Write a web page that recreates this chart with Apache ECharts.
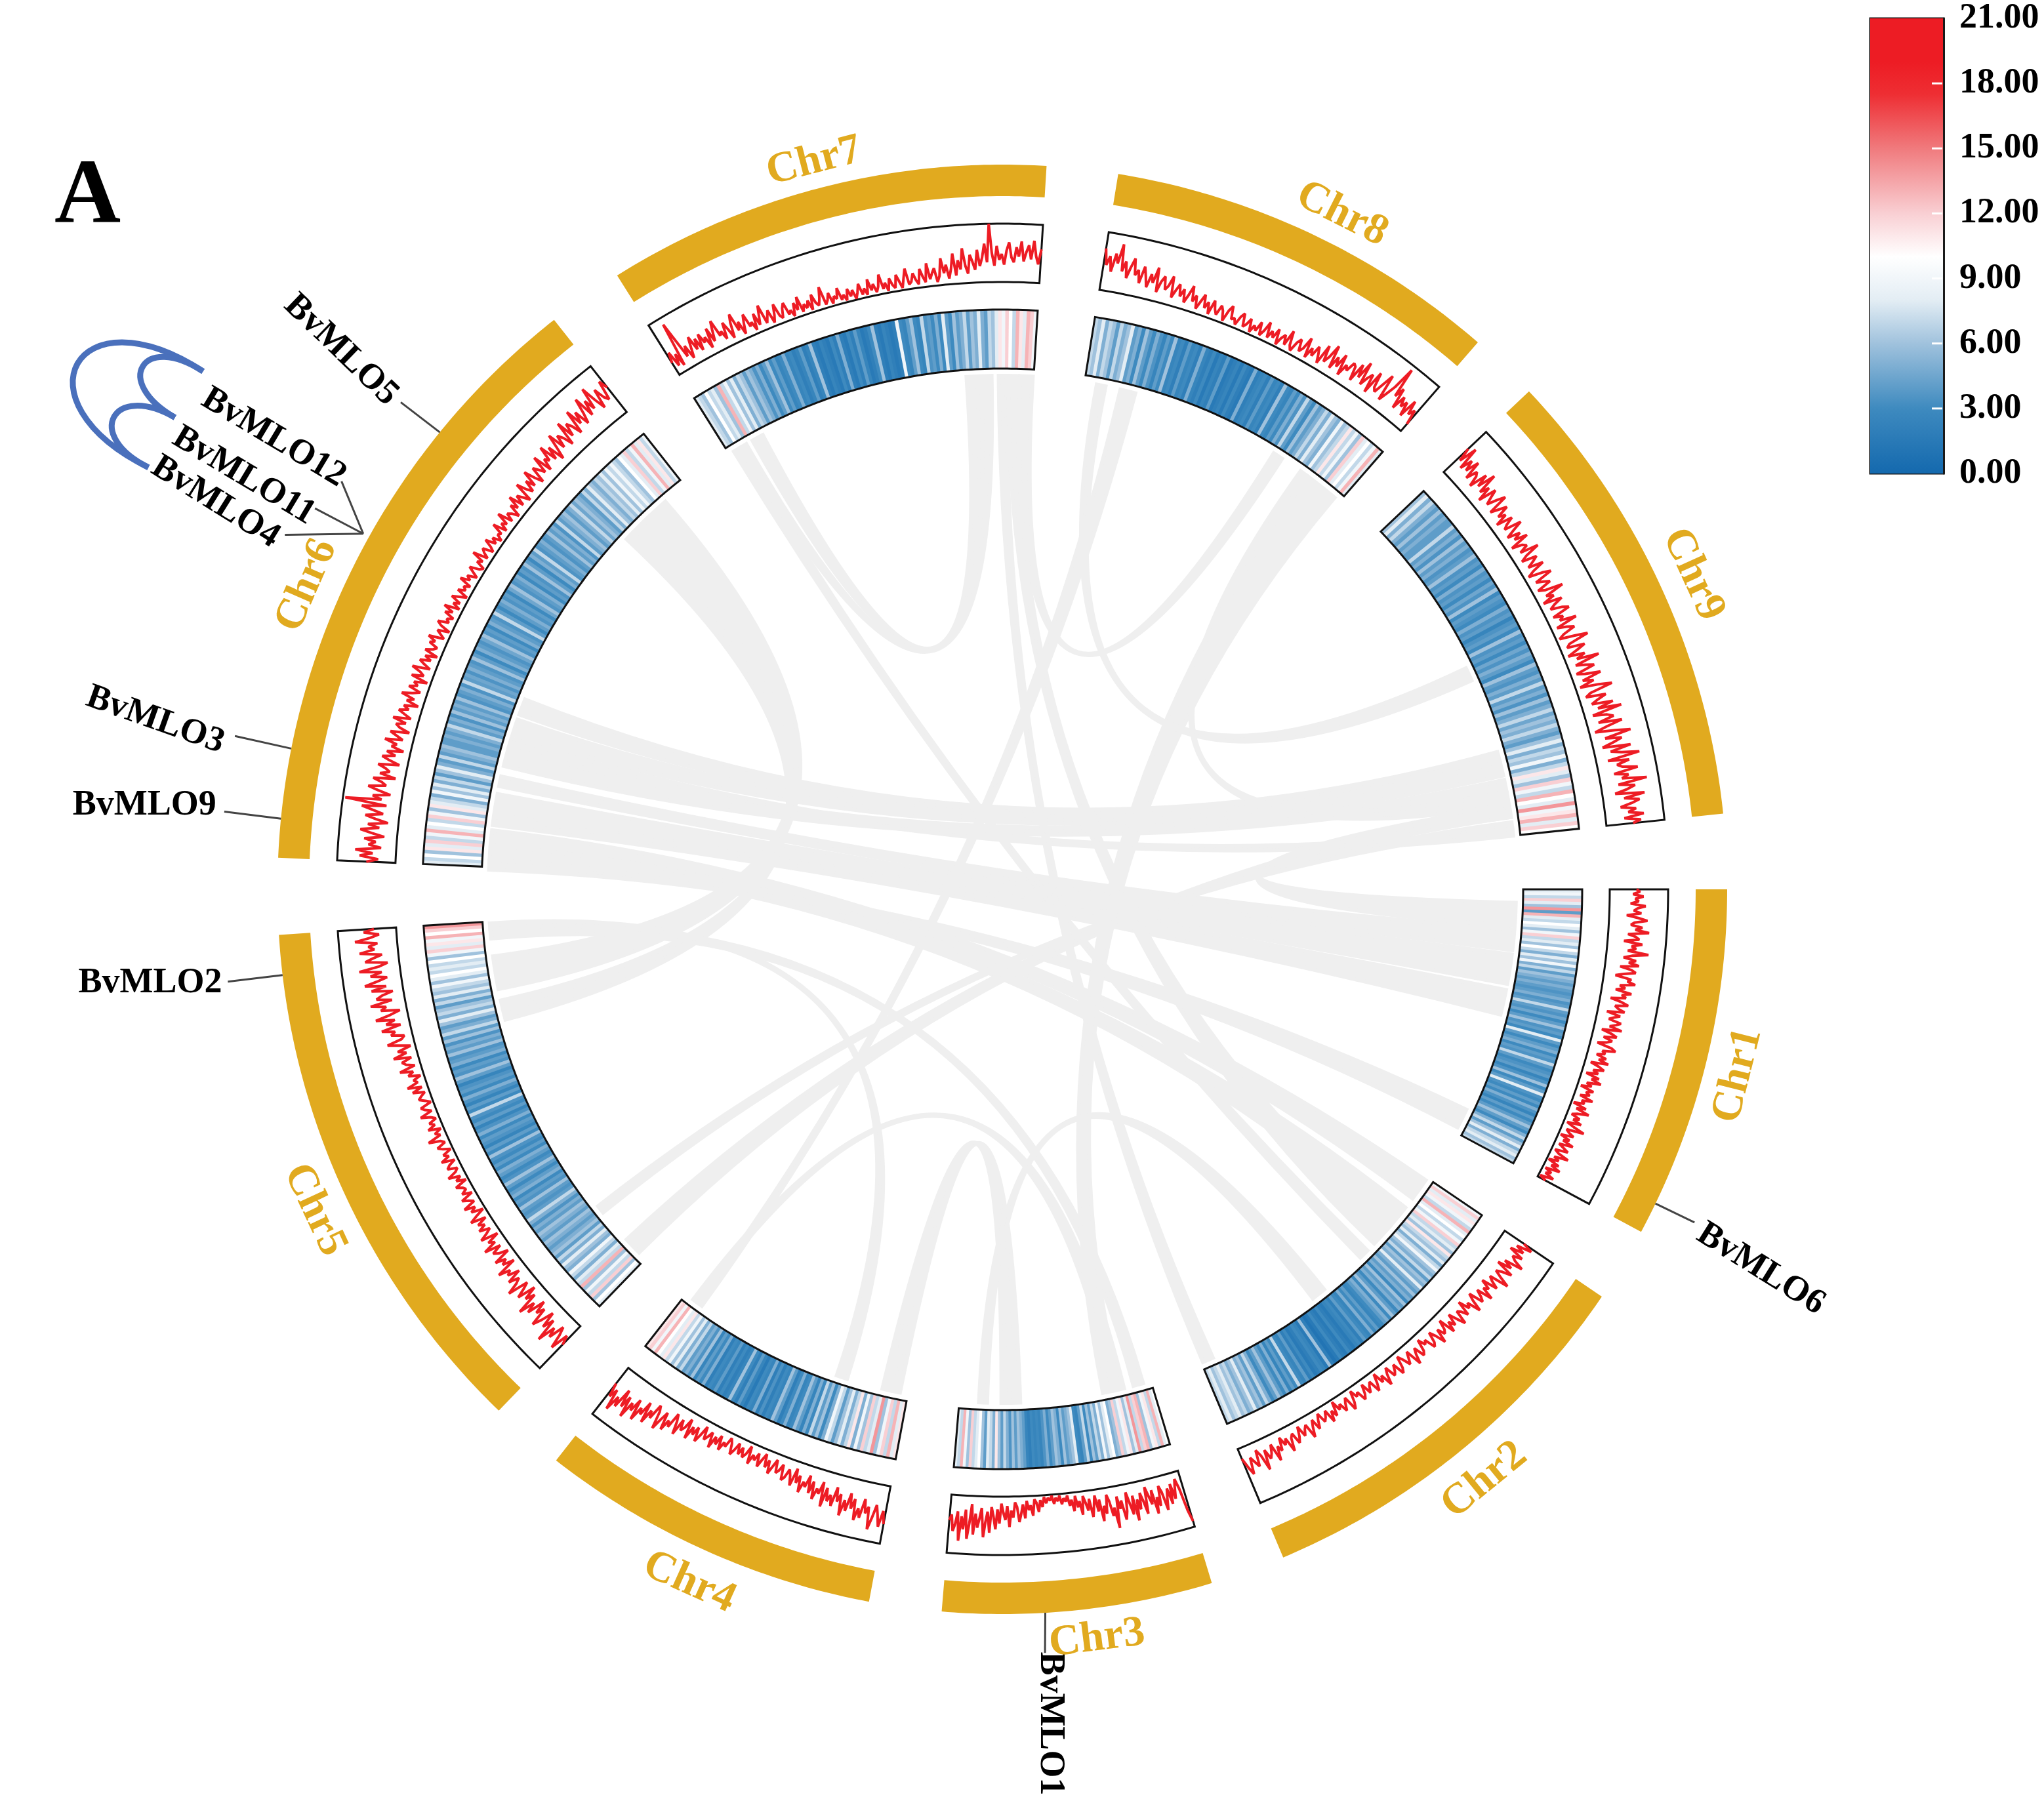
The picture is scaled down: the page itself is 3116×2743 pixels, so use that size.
<!DOCTYPE html>
<html><head><meta charset="utf-8">
<style>html,body{margin:0;padding:0;background:#fff}#c{width:3116px;height:2743px}</style>
<script src="https://cdn.jsdelivr.net/npm/echarts@6/dist/echarts.min.js"></script>
</head><body><div id="c"></div>
<script>
// ---------- categories ----------
const chromosomes = ['Chr1','Chr2','Chr3','Chr4','Chr5','Chr6','Chr7','Chr8','Chr9'];
const sectorStart = [0,34.2,73.2,100.6,134,182.5,237.9,279.2,316.6];
const sectorEnd   = [28.2,67.2,94.8,128,176.4,231.8,273.5,311,354];
const chrLabelAngle = [14.2,50.8,82.8,114.3,155,203.6,255.5,296.7,335.5];
const chrLabelRadius = [1157,1163,1152,1160,1157,1157,1146,1152,1157];
const colorTicks = [0,3,6,9,12,15,18,21];

// ---------- line track (share of the track height, inner edge = 0) ----------
const line1=[46,52,40,58,44,50,36,62,48,42,55,30,50,66,44,38,58,46,70,34,48,54,28,60,42,50,36,72,44,30,52,40,58,26,46,54,34,20,48,42,56,30,40,24,52,36,44,18,38,50,28,34,46,16,40,30,22,44,36,26,48,14,32,42,20,36,28,12,38,46,24,30,16,34,22,40,10,26,36,18,28,8,32,20,38,14,24,6,30,18,26,10,34,16,22,4,28,12,36,18,8,24,14,30,6,20,40,10,16,26,4,22,12,32,8,18,28,6,14,34,10,20,3,24,12,30,5,18,9,26,3,15];
const line2=[40,58,32,48,25,52,36,44,62,30,46,22,54,38,28,42,60,26,34,48,20,38,30,52,24,36,44,18,30,50,26,34,14,40,28,22,46,32,16,36,24,42,12,28,34,20,44,26,14,32,38,18,24,10,30,36,16,26,42,12,22,32,18,8,28,36,14,24,30,10,20,38,16,26,6,22,34,12,18,28,8,24,32,14,20,6,26,36,10,18,30,14,22,4,28,16,34,10,20,26,8,18,32,12,24,40,14,20,30,10,26,36,16,22,44,18,28,12,34,24,48,16,30,38,20,54,26,14,42,32,22,50,36,18];
const line3=[90,70,30,12,26,45,18,52,24,40,60,28,16,50,34,62,20,44,28,12,58,36,20,48,30,66,22,54,34,14,46,60,26,40,18,72,36,50,24,12,44,30,56,18,38,10,28,46,14,34,20,8,40,16,26,6,32,12,22,4,14,8,18,3,12,6,16,2,10,5,14,3,20,8,28,12,6,34,16,24,8,38,14,30,44,18,10,36,24,52,16,40,28,12,46,22,56,34,18,62,26,44,70,20,38,54,30,66,14,48,74,24,58,36,78,28,50,62,34,44];
const line4=[66,44,72,52,36,60,80,42,54,30,64,48,70,34,52,26,58,40,68,32,46,22,56,38,50,28,62,20,42,34,54,24,46,16,38,30,50,22,36,12,44,28,18,34,40,14,26,32,10,24,38,16,30,8,20,34,12,26,18,36,6,22,30,14,28,10,24,34,16,8,26,20,36,12,30,18,40,14,24,32,10,28,42,18,34,22,46,12,30,38,20,50,28,16,44,34,54,24,40,60,30,20,48,36,62,26,52,42,68,32,56,44,74,38,60,30,66,50,78,42,58,34];
const line5=[44,28,60,36,22,50,34,66,26,46,18,40,56,24,38,16,48,30,58,20,36,12,44,28,16,52,32,22,40,14,34,26,46,10,30,20,38,8,24,32,14,42,18,28,6,36,22,12,30,16,26,8,34,20,4,24,14,32,10,18,28,6,22,12,16,26,4,20,10,30,14,8,24,18,6,28,12,20,4,16,24,8,14,34,10,18,5,26,12,20,6,14,30,8,18,24,4,12,22,16,8,28,10,34,14,20,6,26,16,38,10,24,30,12,42,18,32,8,26,46,20,14,36,28,50,16,40,24,56,30,12,44,34,60,22,48,38,18,54,28,64,42,24,52,32,70,36,20,58,44,28,66,40,50,34,72,46,30,56,38];
const line6=[50,30,62,40,70,26,48,36,56,22,44,64,32,52,18,40,58,28,46,66,24,96,34,50,20,42,60,30,38,54,16,44,28,36,50,14,32,46,24,40,12,34,26,48,18,30,42,10,28,36,20,44,14,26,38,22,32,8,30,18,42,24,12,34,20,28,6,36,16,24,40,10,22,32,14,26,6,30,18,12,28,20,34,8,16,24,4,22,30,12,18,8,26,14,32,6,20,10,28,16,4,24,12,18,8,30,14,22,6,16,26,10,4,20,12,34,8,18,24,6,14,28,10,20,5,16,12,32,8,22,14,36,10,24,18,6,28,16,38,12,30,20,8,42,24,14,34,18,46,26,12,40,30,20,50,16,36,28,54,22,44,14,34,58,26,48,38,20,62,30,52,42,24,66,36,56,28,46,72,34,60,40,78,50,30,64,44,36,70,54];
const line7=[24,42,14,34,10,88,52,20,38,12,30,48,22,40,16,44,26,34,12,46,20,38,54,24,30,14,42,28,10,36,50,18,32,8,26,40,16,22,6,34,12,28,44,10,20,30,6,18,36,14,8,24,32,10,16,4,26,12,34,6,18,10,22,4,30,14,8,20,38,6,12,24,4,16,10,28,6,14,3,22,8,18,2,12,26,6,16,4,30,10,20,5,14,34,8,18,3,24,12,6,28,16,4,20,36,8,12,26,14,6,32,18,8,40,12,22,30,6,16,46,20,34,10,26,52,14,40,24,60,30,16,48,36,22,56,28,42,66,34,100,50,28,62,38,48,30,54,68,42,34,60,44,70,36,52,64,40,72,46,32,58];
const line8=[72,44,60,34,66,50,84,38,56,28,48,64,36,46,24,54,38,20,44,30,58,16,36,46,24,32,50,14,28,40,20,34,12,26,44,18,30,8,22,36,14,26,6,32,18,10,28,20,4,24,34,12,16,6,22,30,8,14,26,4,18,10,28,6,16,34,8,22,12,30,4,18,26,10,38,14,6,24,32,12,20,42,8,28,16,36,24,10,46,18,30,54,14,38,22,48,12,34,26,44,40,16,50,28,60,20,36,46,14,56,30,24,44,64,18,34,52,92,40,58,22,48,32,44,20,54,30,42,16];
const line9=[58,34,66,26,48,30,54,22,42,36,18,50,28,60,24,40,14,46,32,20,38,52,16,30,44,22,34,12,40,26,18,48,30,14,36,22,44,10,28,34,18,50,24,12,38,28,16,42,20,8,32,46,14,26,36,10,22,52,18,30,8,40,24,14,34,44,12,28,20,48,10,26,38,16,6,32,54,18,12,42,26,8,36,20,58,14,30,44,10,24,50,16,34,8,40,62,22,12,46,30,18,54,26,66,14,38,48,20,60,32,10,44,70,24,52,36,16,64,28,46,76,20,56,34,42,68,26,50,38,80,30,58,44,22,72,36,62,48,28,54,40,66,32,60,46];

// ---------- heatmap track ----------
const heat1=[8,9,7,12,8,6,14,4,13,8,7,10,8,6,9,12,7,8,6,10,7,5,8,6,9,5,7,4,6,5,4,5,4,3.5,4,5,3.5,4,7,4,3.5,4.5,3,4,6,3.5,4,3,8,4,3,4,5,3,4,3.5,7,4,3,3.5,4,2.5,3.5,6,3,4,8,3.5,3,4,3,5,3.5,2.5,4,3,4,6,4,3,5,7,4,6,8,5,7,8,6,7];
const heat2=[9,12,8,11,9,7,13,8,10,7,9,12,7,8,6,11,7,6,8,5,7,9,6,5,7,4,6,5,8,5,4,6,4,5,3,6,4,5,3,4,6,3,5,4,3,2.5,4,3,5,2.5,3,4,2,3,2.5,1.5,2,3,1.5,2,3,1.5,1,2,6,1.5,2.5,3,2,1.5,3,2,4,2.5,3,7,3,4,2.5,5,3,4,6,4,3,5,7,4,6,5,8,6,5,7,6,8,7,6,8,7];
const heat3=[10,8,13,7,11,9,6,13,12,7,14,8,6,11,9,7,12,6,5,10,8,6,9,5,7,4,6,3,7,4,2.5,3,8,6,5,4,6,3,5,6,4,3,5,3.5,2.5,3,2.5,3,2,2.5,4,5,6,4,6,3.5,5,7,4,6,11,5,7,8,4,6,10,8,7,12,6,9,13,7,8];
const heat4=[11,8,13,7,12,9,6,14,8,7,12,6,9,5,11,7,5,8,6,4,7,9,5,3,6,4,7,3,5,2.5,4,6,3,2.5,5,3,2,4,6,2.5,3,2,3.5,2,5,2.5,3,1.5,2.5,4,2,3,6,2.5,2,3,2,4,2.5,3,2,5,3,4,2.5,6,3.5,5,4,7,5,8,6,9,7,11,8,10,13,9,12,11];
const heat5=[8,10,6,12,7,9,6,13,7,8,5,7,9,5,6,8,5,7,4,6,5,4,5,6,4,5,6,4,5,3.5,5,7,4,3.5,4,6,3.5,4,3,5,4,3,4,6,3.5,3,4,5,3,4,3,3.5,6,3,4,2.5,3.5,4,3,5,3.5,2.5,4,3,3.5,7,3,4,2.5,3.5,5,3,4,3.5,2.5,4,6,3.5,4,3,5,4,3.5,6,4,5,3.5,6,4,7,5,4,6,8,5,7,6,4,7,5,8,6,7,9,6,8,10,7,8,7,10,6,9,12,8,11,9,13,10,12,14];
const heat6=[8,7,10,6,11,8,12,7,9,13,8,10,7,12,9,6,11,8,7,5,9,6,8,5,7,4,6,8,5,4,7,4,5,6,4,4,5,4,5,7,4,5,3.5,6,4,5,4,6,3.5,4,5,3.5,7,4,4.5,3.5,5,4,3.5,6,4,3,5,4,3.5,4.5,6,3.5,4,3,5,4,3.5,7,4,3,4,5,3.5,4,3,4.5,6,3.5,4,5,3,4,3.5,6,4,3,5,4,7,3.5,4,5,3.5,4,6,4,5,3.5,7,4,5,6,4,5,7,4.5,6,5,4,7,5,8,6,5,7,6,8,6,9,7,9,7,6,10,8,12,7,9,13,8,11,7,9];
const heat7=[8,7,6,10,7,8,6,13,7,9,6,8,5,7,6,4,6,5,3.5,5,3,4,6,3,4,2.5,3,5,2.5,3,2,2.5,4,2,2.5,6,2,1.5,2.5,2,1.5,3,2,5,2,1.5,3,2,4,2.5,1.5,2,3,6,2,1.5,2.5,2,1.5,2,9,3,2.5,4,6,3,2.5,7,3.5,4,3,5,3,8,4,3,6,4,5,7,4,6,5,8,5,4,7,6,8,11,9,12,10,7,13,11,8,13,12,9];
const heat8=[7,6,8,5,7,6,4,7,5,6,8,4,5,3,6,4,3,5,3.5,2.5,4,3,6,2.5,3,2,4,2.5,3,2,5,2.5,2,3,1.5,2.5,2,4,1.5,2,2.5,1.5,3,2,1.5,5,2,2.5,3,2,4,2.5,3,2,6,3,2.5,4,3,5,3.5,7,4,3,6,4,5,7,5,8,6,5,9,6,7,11,7,9,6,12,8,10,7,9,13,8];
const heat9=[6,8,5,7,5,4,6,4,5,4,4,7,4,5,3.5,6,4,5,3.5,4,6,3.5,4,3,5,3.5,4,3,4.5,3.5,6,3,4,3.5,3,5,3.5,4,2.5,3.5,4,3,6,3.5,4,3,4.5,3.5,5,4,3,6,4,3.5,5,4,7,4,5,3.5,6,4,5,7,4.5,6,5,7,5,4,6,8,5,7,6,9,5,7,11,8,6,12,9,7,13,10,8,14,9,11,13,8,12,10];

// ---------- links: [from start, from end, to start, to end] in degrees round the circle ----------
const links=[
 [199.9,201.7,344.5,345.5],[197.5,199.3,345.6,347.2],[193.9,196,347.7,349],[196,197.1,353.2,354],
 [191.6,192.7,4.5,6.8],[188.4,190.7,7.3,10.6],[187.2,188.1,11.3,14.1],[182.2,183.2,25.4,27.6],
 [184.9,186.6,34.5,37],[183.3,184.9,38.3,40.8],
 [350.6,351.9,1.5,4.1],
 [141,141.9,352.5,353.2],[135,137,350.8,351.9],
 [168.8,172.5,225.5,229],[166.7,167.5,224.2,225.2],[165.3,166.4,223,224],
 [107.6,108.8,175.6,176.2],[74.1,75.2,174.5,175.6],
 [88,89,101.5,102.4],[89.2,90.1,102.6,103.5],
 [51.2,52.8,91.7,92.6],
 [238.5,239.3,44.7,45.8],[240.9,242.2,266,267.2],[239.3,240.1,267.6,268.8],
 [65.8,67,269.6,270.5],[41,43.6,270.7,271.8],[272,273.4,301.9,303],
 [76.8,78.7,306.5,310.3],[305.5,306.5,349.2,350.5],[280.6,281.6,334.5,336],
 [125.8,126.4,283.3,285],[76.3,77.6,126.4,127]
];

// ---------- genes ----------
const geneNames=['BvMLO5','BvMLO12','BvMLO11','BvMLO4','BvMLO3','BvMLO9','BvMLO2','BvMLO1','BvMLO6'];
const geneAngle=[219.1,209.1,209.1,209.1,191.2,185.6,173.2,86.6,25.7];
const geneTipAngle=[219,211.7,209,206.3,191.3,185.7,173.2,86.8,25.7];
const geneTipRadius=[1180,1184,1198,1220,1193,1192,1189,1166,1171];
const labelAngle=[219.2,211.8,208.6,206.2,191.3,185.6,173.7,86.7,26.6];
const labelRadius=[1301,1307,1317,1337,1317,1314,1307,1274,1293];
const labelTilt=[44,31,31,32,19.5,0,0,90,32];
// tandem gene pairs: from angle, to angle, bulge radius
const bluePairs=[[212.95,206.3,1682],[212.95,209.7,1562],[209.7,206.3,1562]];

// ---------- colour scale ----------
const scaleValues=[0,3,6,8,10,12,15,17.5,19,21];
const scaleColors=['#1469ae','#3e8abf','#a0c2dd','#e3edf4','#ffffff','#f9cfd3','#f07a7d','#ee2e33','#ed1c24','#ed1c24'];

// ---------- layout ----------
const lineTracks=[line1,line2,line3,line4,line5,line6,line7,line8,line9];
const heatTracks=[heat1,heat2,heat3,heat4,heat5,heat6,heat7,heat8,heat9];
const R={ring:[1057,1105],line:[926,1015],heat:[794,884],link:783,gene:1105,blue:1452};
const GOLD='#e1aa1f', SERIF='"Liberation Serif","Times New Roman",serif';

function heatColor(v){
  for(let i=1;i<scaleValues.length;i++){
    if(v<=scaleValues[i]){
      const t=(v-scaleValues[i-1])/(scaleValues[i]-scaleValues[i-1]);
      return echarts.color.lerp(t,[scaleColors[i-1],scaleColors[i]]);
    }
  }
  return scaleColors[scaleColors.length-1];
}
function arc(api,r,a0,a1){
  const n=Math.max(1,Math.ceil(Math.abs(a1-a0)/0.5)),pts=[];
  for(let i=0;i<=n;i++){const c=api.coord([r,a0+(a1-a0)*i/n]);pts.push([c[0],c[1]]);}
  return pts;
}
function band(api,r0,r1,a0,a1){return arc(api,r0,a0,a1).concat(arc(api,r1,a1,a0));}

const heatRows=[];
heatTracks.forEach((t,c)=>t.forEach((v,i)=>heatRows.push([c,i,v])));
const chrRows=chromosomes.map((_,i)=>[i]);
const geneRows=geneNames.map((_,i)=>[i]);
const frameRows=[];
chromosomes.forEach((_,i)=>{frameRows.push([i,0]);frameRows.push([i,1]);});

const lineSeries=lineTracks.map((vals,c)=>({
  type:'line',coordinateSystem:'polar',showSymbol:false,symbol:'none',silent:true,z:4,animation:false,clip:false,
  lineStyle:{color:'#ed1c24',width:4,join:'bevel'},
  data:vals.map((v,i)=>[
    R.line[0]+v/100*(R.line[1]-R.line[0]),
    sectorStart[c]+(sectorEnd[c]-sectorStart[c])*i/(vals.length-1)
  ])
}));

function custom(data,z,renderItem){
  return {type:'custom',coordinateSystem:'polar',data,z,silent:true,animation:false,renderItem};
}

const option={
  animation:false,backgroundColor:'#fff',
  title:{text:'A',left:78,top:228,textStyle:{fontFamily:SERIF,fontWeight:'bold',fontSize:140,color:'#000'}},
  polar:{center:[1528,1356],radius:1800},
  angleAxis:{type:'value',min:0,max:360,startAngle:0,clockwise:true,show:false},
  radiusAxis:{type:'value',min:0,max:1800,show:false},
  grid:{left:2851,top:28,width:112,height:694,show:true,borderColor:'#1a1a1a',borderWidth:3,containLabel:false},
  xAxis:{type:'category',data:['colour'],show:false},
  yAxis:{type:'value',position:'right',min:0,max:21,interval:3,z:10,splitLine:{show:false},
    axisLine:{show:true,lineStyle:{color:'#1a1a1a',width:3}},
    axisTick:{show:false},
    axisLabel:{show:true,margin:24,align:'left',fontFamily:SERIF,fontWeight:'bold',fontSize:54,color:'#000',
      formatter:v=>colorTicks.includes(v)?v.toFixed(2):''}},
  series:[
    // colour bar
    {type:'bar',xAxisIndex:0,yAxisIndex:0,data:[21],barWidth:'100%',silent:true,animation:false,z:2,
      itemStyle:{color:new echarts.graphic.LinearGradient(0,1,0,0,
        scaleValues.map((v,i)=>({offset:v/21,color:scaleColors[i]})))}},
    // colour bar ticks
    {type:'custom',coordinateSystem:'cartesian2d',xAxisIndex:0,yAxisIndex:0,silent:true,animation:false,z:5,
      data:colorTicks.filter(v=>v>0&&v<21).map(v=>['colour',v]),
      renderItem:(p,api)=>{
        const c=api.coord(['colour',api.value(1)]),half=api.size(['colour',0])[0]/2;
        return {type:'line',shape:{x1:c[0]+half-18,y1:c[1],x2:c[0]+half-2,y2:c[1]},style:{stroke:'#fff',lineWidth:3}};
      }},
    // links
    custom(links,1,(p,api)=>{
      const a1=api.value(0),a2=api.value(1),b1=api.value(2),b2=api.value(3);
      const c=api.coord([0,0]);
      const A=arc(api,R.link,a1,a2),B=arc(api,R.link,b1,b2);
      let d='M'+A.map(q=>q[0]+' '+q[1]).join('L');
      d+='Q'+c[0]+' '+c[1]+' '+B[0][0]+' '+B[0][1];
      d+='L'+B.map(q=>q[0]+' '+q[1]).join('L');
      d+='Q'+c[0]+' '+c[1]+' '+A[0][0]+' '+A[0][1]+'Z';
      return {type:'path',shape:{pathData:d},style:{fill:'#efefef',stroke:'#efefef',lineWidth:6}};
    }),
    // chromosome ring
    custom(chrRows,2,(p,api)=>{
      const i=api.value(0);
      return {type:'polygon',shape:{points:band(api,R.ring[0],R.ring[1],sectorStart[i],sectorEnd[i])},style:{fill:GOLD}};
    }),
    // heat cells
    custom(heatRows,2,(p,api)=>{
      const c=api.value(0),i=api.value(1),v=api.value(2),n=heatTracks[c].length;
      const s=sectorStart[c],w=(sectorEnd[c]-s)/n;
      const a0=s+i*w,a1=Math.min(sectorEnd[c],a0+w*1.2);
      return {type:'polygon',shape:{points:band(api,R.heat[0],R.heat[1],a0,a1)},style:{fill:heatColor(v)}};
    }),
    // track frames
    custom(frameRows,3,(p,api)=>{
      const i=api.value(0),tr=api.value(1)?R.line:R.heat;
      return {type:'polygon',shape:{points:band(api,tr[0],tr[1],sectorStart[i],sectorEnd[i])},
        style:{fill:'none',stroke:'#111',lineWidth:3}};
    }),
    ...lineSeries,
    // leader lines
    custom(geneRows,5,(p,api)=>{
      const i=api.value(0),a=api.coord([R.gene+(i>0&&i<4?10:0),geneAngle[i]]),b=api.coord([geneTipRadius[i],geneTipAngle[i]]);
      return {type:'line',shape:{x1:a[0],y1:a[1],x2:b[0],y2:b[1]},style:{stroke:'#444',lineWidth:3}};
    }),
    // tandem pairs
    custom(bluePairs,5,(p,api)=>{
      const a=api.value(0),b=api.value(1),r=api.value(2);
      const P0=api.coord([R.blue,a]),C1=api.coord([r,a]),C2=api.coord([r,b]),P1=api.coord([R.blue,b]);
      return {type:'path',shape:{pathData:`M${P0[0]} ${P0[1]}C${C1[0]} ${C1[1]} ${C2[0]} ${C2[1]} ${P1[0]} ${P1[1]}`},
        style:{fill:'none',stroke:'#4a70bc',lineWidth:9}};
    }),
    // gene labels
    custom(geneRows,6,(p,api)=>{
      const i=api.value(0),c=api.coord([labelRadius[i],labelAngle[i]]);
      return {type:'text',x:c[0],y:c[1],rotation:-labelTilt[i]*Math.PI/180,
        style:{text:geneNames[i],fill:'#000',font:'bold 54px '+SERIF,align:'center',verticalAlign:'middle'}};
    }),
    // chromosome labels: read clockwise round the top, counter-clockwise round the bottom
    custom(chrRows,6,(p,api)=>{
      const i=api.value(0),t=chrLabelAngle[i],c=api.coord([chrLabelRadius[i],t]);
      const tilt=t>180?t+90:t-90;
      return {type:'text',x:c[0],y:c[1],rotation:-tilt*Math.PI/180,
        style:{text:chromosomes[i],fill:GOLD,font:'bold 66px '+SERIF,align:'center',verticalAlign:'middle'}};
    })
  ]
};
const chart=echarts.init(document.getElementById('c'),null,{renderer:'canvas'});
chart.setOption(option);
</script></body></html>
